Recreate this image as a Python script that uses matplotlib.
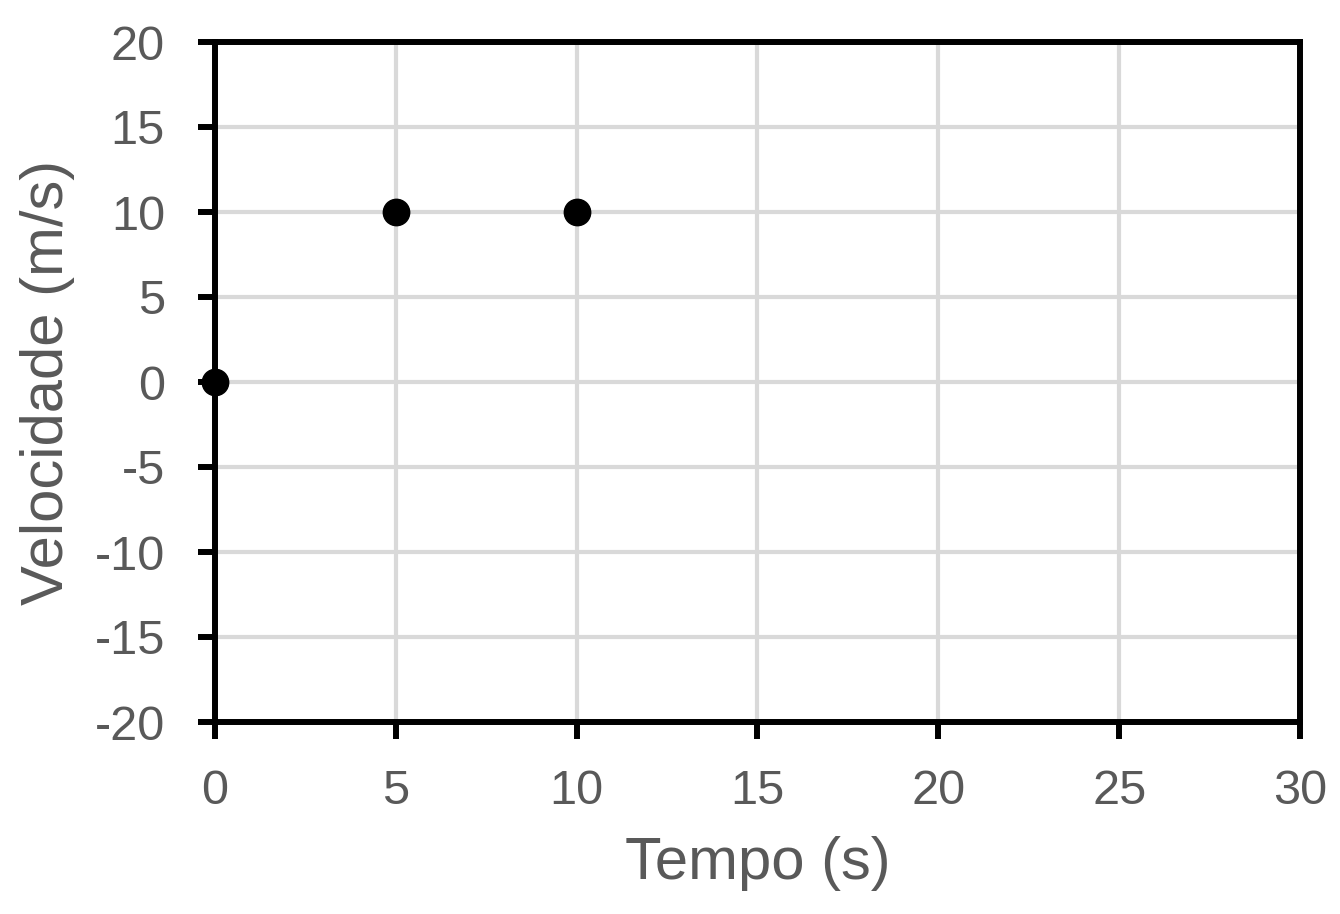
import matplotlib
matplotlib.use("Agg")
import matplotlib.pyplot as plt
from matplotlib.ticker import FuncFormatter

tempo = [0, 5, 10]
velocidade = [0, 10, 10]
x_ticks = [0, 5, 10, 15, 20, 25, 30]
y_ticks = [-20, -15, -10, -5, 0, 5, 10, 15, 20]

plt.rcParams['font.family'] = ['Liberation Sans', 'DejaVu Sans']

fig = plt.figure(figsize=(13.4, 9.14), dpi=100)
ax = fig.add_axes([215/1340, 1-722/914, (1300-215)/1340, (722-42)/914])

ax.set_xlim(0, 30)
ax.set_ylim(-20, 20)
ax.set_xticks(x_ticks)
ax.set_yticks(y_ticks)
fmt = FuncFormatter(lambda v, p: f"{v:g}".replace("\u2212", "-"))
ax.xaxis.set_major_formatter(fmt)
ax.yaxis.set_major_formatter(fmt)
ax.grid(True, color='#d9d9d9', linewidth=3)
ax.set_axisbelow(True)

ax.plot(tempo, velocidade, 'o', color='black', markersize=19, clip_on=False, zorder=5)

for s in ax.spines.values():
    s.set_linewidth(4.3)
    s.set_color('black')

ax.tick_params(axis='both', direction='out', length=12, width=4.3, color='black',
               labelsize=35, labelcolor='#595959')
ax.tick_params(axis='x', pad=22)
ax.tick_params(axis='y', pad=24)

ax.set_xlabel('Tempo (s)', fontsize=43, color='#595959', labelpad=16)
ax.set_ylabel('Velocidade (m/s)', fontsize=43, color='#595959', labelpad=14)

fig.savefig('out.png', dpi=100)
